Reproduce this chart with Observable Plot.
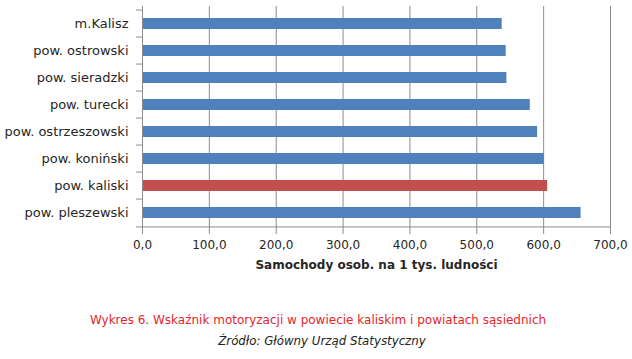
<!DOCTYPE html>
<html>
<head>
<meta charset="utf-8">
<script src="https://cdn.jsdelivr.net/npm/d3@7"></script>
<script src="https://cdn.jsdelivr.net/npm/@observablehq/plot@0.6"></script>
<style>
  body { margin: 0; background: #fff; font-family: "DejaVu Sans", sans-serif; }
  #chart svg { display: block; }
  .title { color: #e3262b; font-size: 12px; text-align: center; margin-top: 33px; line-height: 14px; padding-left: 4px; }
  .source { color: #222; font-size: 11.8px; font-style: italic; text-align: center; margin-top: 7px; line-height: 14px; padding-left: 12px; }
</style>
</head>
<body>
<div id="chart"></div>
<div class="title">Wykres 6. Wskaźnik motoryzacji w powiecie kaliskim i powiatach sąsiednich</div>
<div class="source">Źródło: Główny Urząd Statystyczny</div>
<script>
const categories = ["m.Kalisz", "pow. ostrowski", "pow. sieradzki", "pow. turecki", "pow. ostrzeszowski", "pow. koniński", "pow. kaliski", "pow. pleszewski"];
const values = [538, 544, 545, 580, 591, 601, 606, 656];
const highlight = "pow. kaliski";
const xTicks = [0, 100, 200, 300, 400, 500, 600, 700];
const xLabel = "Samochody osob. na 1 tys. ludności";

const data = categories.map((c, i) => ({ name: c, value: values[i] }));

const W = 632, H = 280, mt = 6, mb = 51, ml = 142, mr = 22;
const step = (H - mt - mb) / categories.length;
const pxPerUnit = (W - ml - mr) / 700;

const chart = Plot.plot({
  width: W,
  height: H,
  marginTop: mt,
  marginBottom: mb,
  marginLeft: ml,
  marginRight: mr,
  style: { fontFamily: "DejaVu Sans, sans-serif", fontSize: "12px", color: "#262626", background: "#fff" },
  x: { domain: [0, 700] },
  y: { domain: categories, paddingInner: 0.6, paddingOuter: 0.3, align: 0.5 },
  marks: [
    Plot.gridX(xTicks, { stroke: "#8c8c8c", strokeOpacity: 1 }),
    Plot.barX(data, { y: "name", x: "value", fill: d => d.name === highlight ? "#c0504d" : "#4f81bd" }),
    Plot.ruleX([0], { stroke: "#8c8c8c" }),
    Plot.ruleY([0], { y: () => categories[categories.length - 1], dy: step / 2, x1: -6 / pxPerUnit, x2: 700, stroke: "#8c8c8c" }),
    Plot.ruleY(categories, { y: d => d, dy: -step / 2, x1: -6 / pxPerUnit, x2: 0, stroke: "#8c8c8c" }),
    Plot.axisY({ tickSize: 0, tickPadding: 14, fontSize: 13, fill: "#262626", label: null }),
    Plot.axisX({ ticks: xTicks, tickSize: 5, stroke: "#8c8c8c", tickPadding: 6, tickFormat: d => d.toFixed(1).replace(".", ","), fontSize: 12, fill: "#262626", label: null }),
    Plot.text([xLabel], { frameAnchor: "bottom", dy: 39, fontSize: 12, fontWeight: "bold", fill: "#262626", text: d => d })
  ]
});
document.getElementById("chart").appendChild(chart);
</script>
</body>
</html>
